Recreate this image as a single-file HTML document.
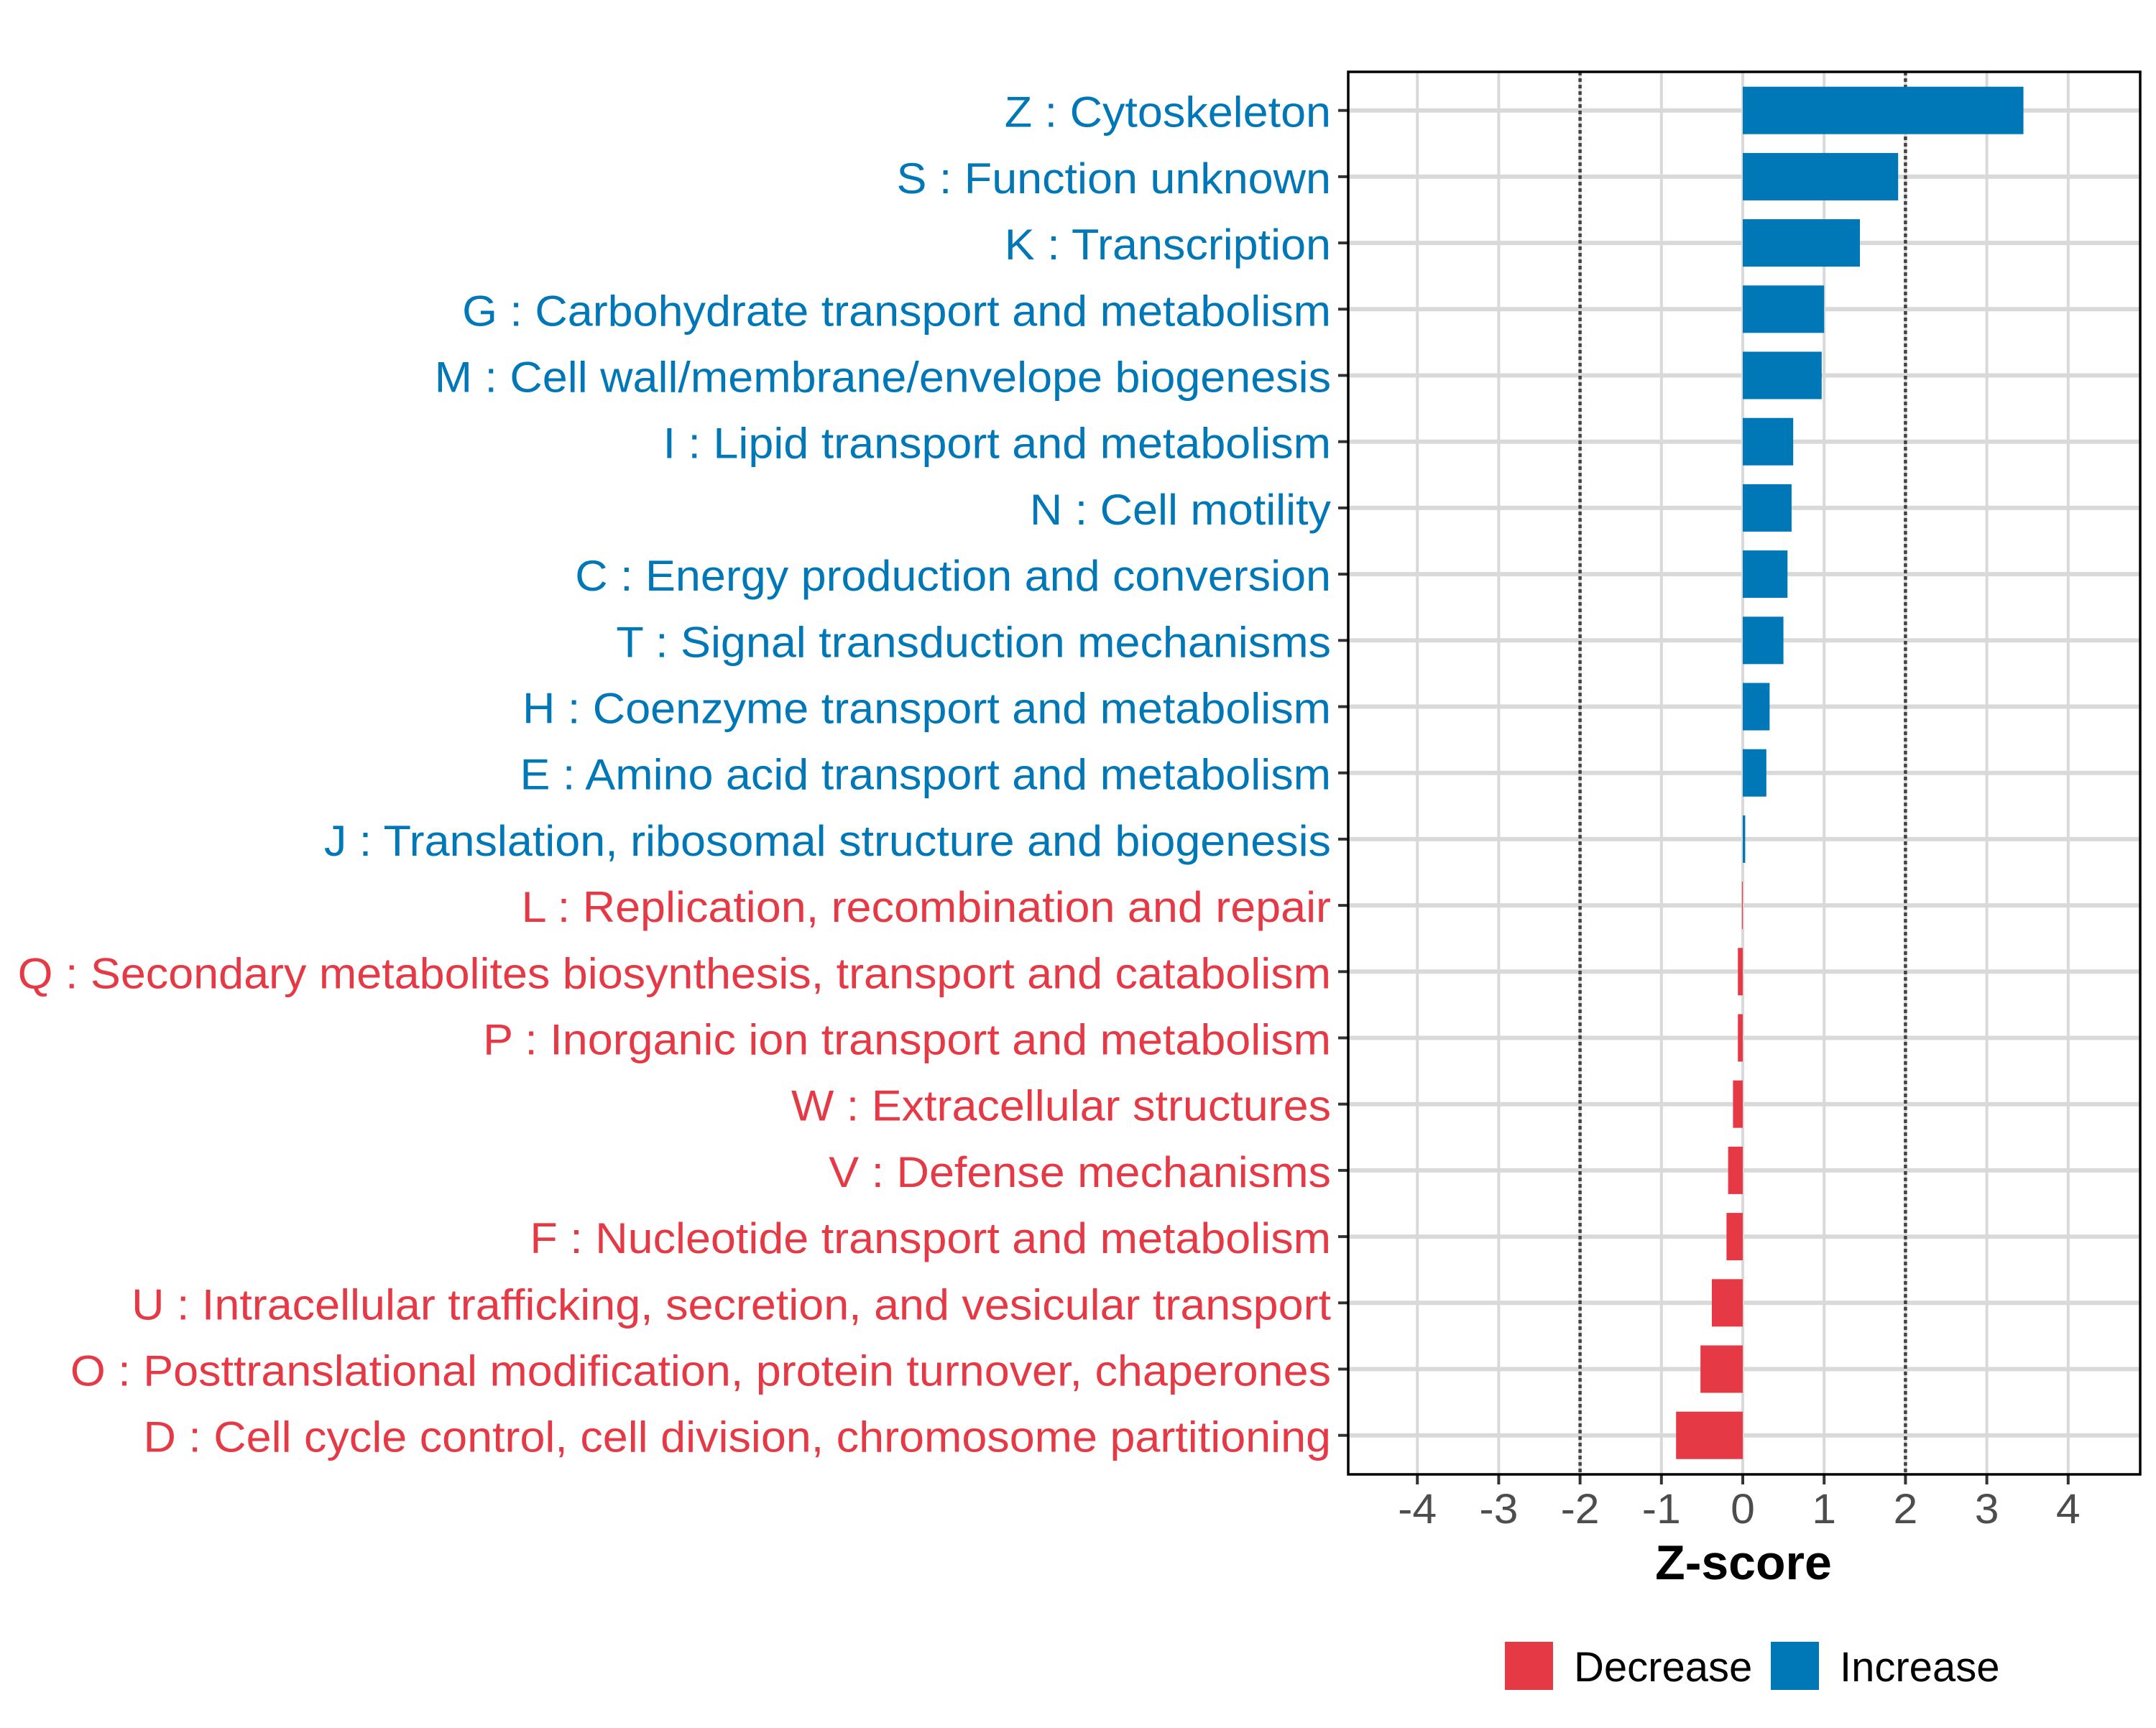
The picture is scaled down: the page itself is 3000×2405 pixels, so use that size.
<!DOCTYPE html>
<html><head><meta charset="utf-8"><style>
html,body{margin:0;padding:0;background:#fff}
svg text{font-family:"Liberation Sans",sans-serif}
</style></head><body>
<svg id="chart" width="3000" height="2400" viewBox="0 0 3000 2400" xmlns="http://www.w3.org/2000/svg">
<g id="grid"></g>
<g id="bars"></g>
<g id="ylabels"></g>
<g id="xaxis"></g>
<text x="2426" y="2198" text-anchor="middle" font-size="68" font-weight="bold" fill="#000">Z-score</text>
<g>
<rect x="2094" y="2285" width="67" height="67" fill="#e63946"/>
<text x="2190" y="2340" font-size="58" fill="#000">Decrease</text>
<rect x="2464" y="2285" width="67" height="67" fill="#0077b6"/>
<text x="2560" y="2340" font-size="58" fill="#000">Increase</text>
</g>
</svg>
<script>
const categories = ["Z : Cytoskeleton","S : Function unknown","K : Transcription","G : Carbohydrate transport and metabolism","M : Cell wall/membrane/envelope biogenesis","I : Lipid transport and metabolism","N : Cell motility","C : Energy production and conversion","T : Signal transduction mechanisms","H : Coenzyme transport and metabolism","E : Amino acid transport and metabolism","J : Translation, ribosomal structure and biogenesis","L : Replication, recombination and repair","Q : Secondary metabolites biosynthesis, transport and catabolism","P : Inorganic ion transport and metabolism","W : Extracellular structures","V : Defense mechanisms","F : Nucleotide transport and metabolism","U : Intracellular trafficking, secretion, and vesicular transport","O : Posttranslational modification, protein turnover, chaperones","D : Cell cycle control, cell division, chromosome partitioning"];
const zscores = [3.45,1.91,1.44,1.0,0.97,0.62,0.6,0.55,0.5,0.33,0.29,0.03,-0.01,-0.06,-0.06,-0.12,-0.18,-0.2,-0.38,-0.52,-0.82];
const xTicks = [-4,-3,-2,-1,0,1,2,3,4];
const thresholds = [-2,2];

const NS="http://www.w3.org/2000/svg";
const L=1876,R=2978,T=100,B=2052;
const x0=2425,unit=113.2;
const y0=153.7,step=92.2,barH=66;
const sx=v=>x0+v*unit;
const sy=i=>y0+i*step;
const BLUE="#0077b6",RED="#e63946";
function mk(tag,attrs,parent){const e=document.createElementNS(NS,tag);for(const k in attrs)e.setAttribute(k,attrs[k]);parent.appendChild(e);return e;}
const grid=document.getElementById('grid'),bars=document.getElementById('bars'),yl=document.getElementById('ylabels'),xa=document.getElementById('xaxis');
xTicks.forEach(t=>{
  const l=mk('line',{x1:sx(t),x2:sx(t),y1:T,y2:B,stroke:'#d9d9d9','stroke-width':4},grid);
  
  
});
categories.forEach((c,i)=>{
  const l=mk('line',{x1:L,x2:R,y1:sy(i),y2:sy(i),stroke:'#d9d9d9','stroke-width':6},grid);
  
  
});
thresholds.forEach(t=>{
  const l=mk('line',{x1:sx(t),x2:sx(t),y1:T,y2:B,stroke:'#444','stroke-width':4.5,'stroke-dasharray':'5 4'},grid);
  
  
});
zscores.forEach((v,i)=>{
  const a=Math.min(sx(0),sx(v)),w=Math.max(Math.abs(sx(v)-sx(0)),1);
  const r=mk('rect',{x:a,y:sy(i)-barH/2,width:w,height:barH,fill:v>=0?BLUE:RED},bars);
  
  
});
mk('rect',{x:L,y:T,width:R-L,height:B-T,fill:'none',stroke:'#000','stroke-width':3.5},grid.parentNode);
const labels=[];
categories.forEach((c,i)=>{
  const tk=mk('line',{x1:L-14,x2:L,y1:sy(i),y2:sy(i),stroke:'#333','stroke-width':4},yl);
  
  
  const t=mk('text',{x:1852,y:sy(i)+23,'text-anchor':'end','font-size':60,fill:zscores[i]>=0?BLUE:RED},yl);
  t.textContent=c;
  
  
  labels.push(t);
});
const q=labels[13].getBBox().width;
const k=1828/q;
labels.forEach(t=>t.setAttribute('transform',`translate(1852,0) scale(${k},1) translate(-1852,0)`));
xTicks.forEach(t=>{
  const tk=mk('line',{x1:sx(t),x2:sx(t),y1:B,y2:B+14,stroke:'#333','stroke-width':4},xa);
  
  
  const tx=mk('text',{x:sx(t),y:2120,'text-anchor':'middle','font-size':58,fill:'#4d4d4d'},xa);
  tx.textContent=String(t);
  
  
  tx.setAttribute('transform',`translate(${sx(t)},0) scale(${k},1) translate(${-sx(t)},0)`);
});
</script>
</body></html>
